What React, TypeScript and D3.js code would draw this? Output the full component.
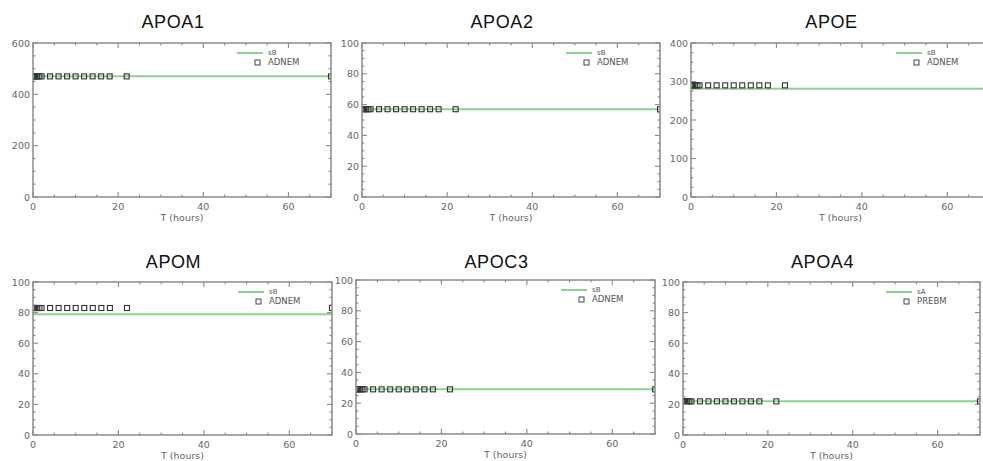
import React from "react";
import * as d3 from "d3";

const titles = ["APOA1", "APOA2", "APOE", "APOM", "APOC3", "APOA4"];
const yMaxes = [600, 100, 400, 100, 100, 100];
const yTickSteps = [200, 20, 100, 20, 20, 20];
const legendTop = ["sB", "sB", "sB", "sB", "sB", "sA"];
const legendBottom = ["ADNEM", "ADNEM", "ADNEM", "ADNEM", "ADNEM", "PREBM"];

const times = [0, 0.25, 0.5, 1, 1.5, 2, 4, 6, 8, 10, 12, 14, 16, 18, 22, 70];
const apoa1Obs = [470, 470, 470, 470, 470, 470, 470, 470, 470, 470, 470, 470, 470, 470, 470, 470];
const apoa2Obs = [57, 57, 57, 57, 57, 57, 57, 57, 57, 57, 57, 57, 57, 57, 57, 57];
const apoeObs = [290, 290, 290, 290, 290, 290, 290, 290, 290, 290, 290, 290, 290, 290, 290, 290];
const apomObs = [83, 83, 83, 83, 83, 83, 83, 83, 83, 83, 83, 83, 83, 83, 83, 83];
const apoc3Obs = [29, 29, 29, 29, 29, 29, 29, 29, 29, 29, 29, 29, 29, 29, 29, 29];
const apoa4Obs = [22, 22, 22, 22, 22, 22, 22, 22, 22, 22, 22, 22, 22, 22, 22, 22];

const modelTimes = [0, 70];
const apoa1Model = [470, 470];
const apoa2Model = [57, 57];
const apoeModel = [281, 281];
const apomModel = [79, 79];
const apoc3Model = [29, 29];
const apoa4Model = [22, 22];

const observed = [apoa1Obs, apoa2Obs, apoeObs, apomObs, apoc3Obs, apoa4Obs];
const models = [apoa1Model, apoa2Model, apoeModel, apomModel, apoc3Model, apoa4Model];

const xMax = 70;
const xTicks = [0, 20, 40, 60];

// layout: [left, top, width, height, titleBaseline]
const boxes = [
  [33, 43, 298, 154, 28],
  [362, 43, 298, 154, 28],
  [691, 43, 299, 154, 28],
  [33, 282, 299, 153, 268],
  [356, 280, 299, 154, 268],
  [683, 282, 297, 153, 268],
];

const AXIS = "#8a8a8a";
const TXT = "#666";
const GREEN = "#8fd18f";

function Panel({ i }: { i: number }) {
  const [left, top, w, h, tb] = boxes[i];
  const x = d3.scaleLinear().domain([0, xMax]).range([0, w]);
  const y = d3.scaleLinear().domain([0, yMaxes[i]]).range([h, 0]);
  const yStep = yTickSteps[i];
  const yMajor = d3.range(0, yMaxes[i] + 0.001, yStep);
  const yMinor = d3.range(0, yMaxes[i] + 0.001, yStep / 4).filter((v) => !yMajor.some((m) => Math.abs(m - v) < 1e-6));
  const xMinor = d3.range(0, xMax + 0.001, 5).filter((v) => !xTicks.includes(v));
  const line = d3
    .line<number>()
    .x((_, k) => x(modelTimes[k]))
    .y((v) => y(v));
  const clipId = `clip${i}`;
  const M = 5;
  const m = 2.5;
  return (
    <g transform={`translate(${left},${top})`}>
      <defs>
        <clipPath id={clipId}>
          <rect x={0} y={0} width={w} height={h} />
        </clipPath>
      </defs>
      <text
        x={w / 2 - 9}
        y={tb - top}
        textAnchor="middle"
        fontFamily="Liberation Sans, Arial, sans-serif"
        fontSize={18}
        letterSpacing={0.6}
        fill="#111"
      >
        {titles[i]}
      </text>
      <g clipPath={`url(#${clipId})`}>
        <path d={line(models[i]) || ""} stroke={GREEN} strokeWidth={2} fill="none" />
        {observed[i].map((v, k) => (
          <rect
            key={k}
            x={x(times[k]) - 2.5}
            y={y(v) - 2.5}
            width={5}
            height={5}
            fill="none"
            stroke="#333"
            strokeWidth={1.1}
          />
        ))}
      </g>
      <rect x={0} y={0} width={w} height={h} fill="none" stroke={AXIS} strokeWidth={1.5} />
      {xTicks.map((t) => (
        <g key={`xt${t}`} stroke={AXIS} strokeWidth={1.1}>
          <line x1={x(t)} x2={x(t)} y1={h} y2={h - M} />
          <line x1={x(t)} x2={x(t)} y1={0} y2={M} />
        </g>
      ))}
      {xMinor.map((t) => (
        <g key={`xm${t}`} stroke={AXIS} strokeWidth={1.1}>
          <line x1={x(t)} x2={x(t)} y1={h} y2={h - m} />
          <line x1={x(t)} x2={x(t)} y1={0} y2={m} />
        </g>
      ))}
      {yMajor.map((t) => (
        <g key={`yt${t}`} stroke={AXIS} strokeWidth={1.1}>
          <line x1={0} x2={M} y1={y(t)} y2={y(t)} />
          <line x1={w} x2={w - M} y1={y(t)} y2={y(t)} />
        </g>
      ))}
      {yMinor.map((t) => (
        <g key={`ym${t}`} stroke={AXIS} strokeWidth={1.1}>
          <line x1={0} x2={m} y1={y(t)} y2={y(t)} />
          <line x1={w} x2={w - m} y1={y(t)} y2={y(t)} />
        </g>
      ))}
      <g fontFamily="DejaVu Sans, sans-serif" fontSize={9.5} fill={TXT}>
        {yMajor.map((t) => (
          <text key={`yl${t}`} x={-3} y={y(t) + 3.5} textAnchor="end">
            {t}
          </text>
        ))}
        {xTicks.map((t) => (
          <text key={`xl${t}`} x={x(t)} y={h + 13} textAnchor="middle">
            {t}
          </text>
        ))}
        <text x={w / 2} y={h + 24} textAnchor="middle">
          T (hours)
        </text>
      </g>
      <g>
        <line x1={w - 94} x2={w - 68} y1={10} y2={10} stroke={GREEN} strokeWidth={2} />
        <rect x={w - 76} y={17} width={5} height={5} fill="none" stroke="#444" strokeWidth={1} />
        <text x={w - 63} y={12} fontFamily="DejaVu Sans, sans-serif" fontSize={7} fill="#555">
          {legendTop[i]}
        </text>
        <text x={w - 63} y={22} fontFamily="DejaVu Sans, sans-serif" fontSize={8.5} fill="#555">
          {legendBottom[i]}
        </text>
      </g>
    </g>
  );
}

export default function App() {
  return (
    <svg
      width={983}
      height={461}
      style={{ position: "absolute", left: 0, top: 0, background: "#fff" }}
    >
      <rect width={983} height={461} fill="#fff" />
      {titles.map((_, i) => (
        <Panel key={i} i={i} />
      ))}
    </svg>
  );
}
